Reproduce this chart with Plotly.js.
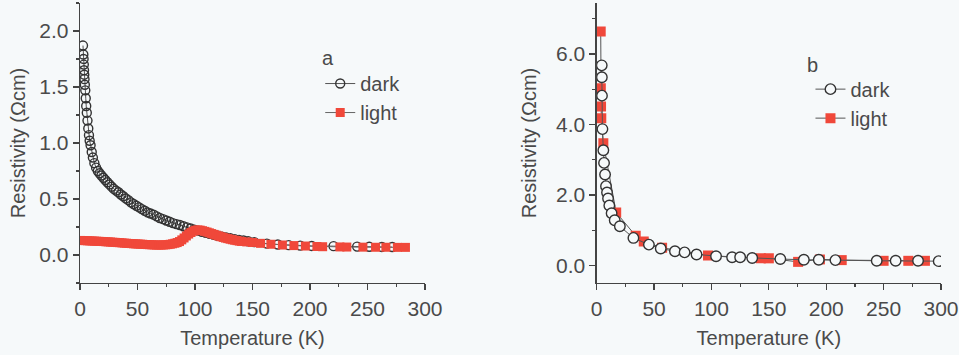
<!DOCTYPE html>
<html>
<head>
<meta charset="utf-8">
<script src="https://cdn.plot.ly/plotly-3.0.1.min.js"></script>
<style>
  html, body { margin: 0; padding: 0; background: #f6f9fa; }
  #chart { width: 959px; height: 355px; }
</style>
</head>
<body>
<div id="chart"></div>
<script>
// Panel a: resistivity vs temperature, dark and illuminated
var tempDarkA = [2.6, 2.9, 3.1, 3.3, 3.5, 3.7, 3.9, 4.2, 4.6, 5.0, 5.4, 5.9, 6.5, 7.2, 7.8, 8.4, 9.2, 10.2, 11.2, 12.5,
  14.0, 15.5, 17.0, 18.6, 20.3, 22.0, 23.8, 25.6, 27.5, 29.4, 31.4, 33.4, 35.5, 37.6, 39.8, 42.0, 44.3, 46.6, 49.0, 51.4,
  53.8, 56.3, 58.8, 61.4, 64.0, 66.7, 69.4, 72.2, 75.0, 77.9, 80.8, 83.8, 86.8, 89.9, 93.0, 96.2, 99.4, 102.7, 106.0, 109.4,
  112.8, 116.3, 119.8, 123.4, 127.0, 130.7, 134.5, 138.3, 142.2, 146.2, 151.5, 162.5, 172.0, 181.5, 191.5, 201.5, 220.5,
  241.0, 251.5, 262.5, 271.5];
var rhoDarkA = [1.87, 1.79, 1.75, 1.70, 1.65, 1.61, 1.57, 1.52, 1.47, 1.40, 1.33, 1.27, 1.20, 1.13, 1.07, 1.02, 0.98, 0.92, 0.87, 0.82,
  0.78, 0.75, 0.73, 0.71, 0.69, 0.67, 0.65, 0.63, 0.61, 0.59, 0.575, 0.56, 0.54, 0.525, 0.505, 0.49, 0.47, 0.455, 0.44, 0.425,
  0.41, 0.395, 0.38, 0.37, 0.36, 0.345, 0.33, 0.32, 0.308, 0.297, 0.285, 0.276, 0.268, 0.257, 0.247, 0.237, 0.227, 0.218, 0.208, 0.199,
  0.19, 0.181, 0.172, 0.164, 0.156, 0.149, 0.142, 0.135, 0.129, 0.123, 0.115, 0.102, 0.094, 0.088, 0.084, 0.081, 0.079,
  0.075, 0.073, 0.072, 0.071];

var tempLightA = [0.5, 2.5, 4.5, 6.5, 8.5, 10.5, 12.5, 14.5, 16.5, 18.5, 20.5, 22.5, 24.5, 26.5, 28.5, 30.5, 32.5, 34.5, 36.5, 38.5,
  40.5, 42.5, 44.5, 46.5, 48.5, 50.5, 52.5, 54.5, 56.5, 58.5, 60.5, 62.5, 64.5, 66.5, 68.5, 70.5, 72.5, 74.5, 76.5, 78.5,
  80.5, 82.5, 84.5, 86.5, 88.5, 90.5, 92.5, 94.5, 96.5, 98.5, 100.5, 102.5, 104.5, 106.5, 108.5, 110.5, 112.5, 114.5, 116.5, 118.5,
  120.5, 122.5, 124.5, 126.5, 128.5, 130.5, 132.5, 134.5, 136.5, 138.5, 140.5, 145, 150, 157, 166, 176, 186, 196, 206, 211,
  226, 232, 246, 257, 266, 276, 283];
var rhoLightA = [0.130, 0.129, 0.128, 0.127, 0.126, 0.125, 0.124, 0.123, 0.122, 0.121, 0.120, 0.118, 0.117, 0.116, 0.114, 0.113, 0.111, 0.110, 0.108, 0.106,
  0.105, 0.103, 0.102, 0.100, 0.099, 0.098, 0.097, 0.096, 0.094, 0.093, 0.092, 0.091, 0.090, 0.089, 0.089, 0.089, 0.090, 0.091, 0.093, 0.096,
  0.100, 0.105, 0.111, 0.120, 0.135, 0.152, 0.170, 0.187, 0.201, 0.213, 0.221, 0.224, 0.222, 0.217, 0.211, 0.205, 0.198, 0.191, 0.184, 0.177,
  0.170, 0.163, 0.157, 0.151, 0.146, 0.141, 0.136, 0.132, 0.128, 0.124, 0.121, 0.117, 0.112, 0.104, 0.096, 0.089, 0.084, 0.080, 0.076, 0.074,
  0.072, 0.071, 0.070, 0.069, 0.069, 0.068, 0.068];

// Panel b
var tempDarkB = [4.4, 4.5, 4.6, 5.0, 5.8, 6.4, 7.3, 8.1, 9.0, 9.9, 11.0, 13.0, 15.7, 20.2, 32.0, 45.5, 55.8, 68.2, 76.6, 87.0,
  104.0, 118.0, 125.0, 135.5, 160.0, 180.5, 193.5, 208.0, 244.0, 260.5, 280.0, 298.0];
var rhoDarkB = [5.68, 5.34, 4.82, 3.87, 3.27, 2.91, 2.58, 2.25, 2.07, 1.90, 1.70, 1.48, 1.28, 1.11, 0.78, 0.59, 0.48, 0.40, 0.37, 0.31,
  0.26, 0.23, 0.23, 0.21, 0.18, 0.16, 0.16, 0.15, 0.13, 0.13, 0.13, 0.12];

var tempLightB = [3.5, 3.6, 3.8, 4.0, 5.8, 17.0, 34.0, 41.0, 57.0, 97.0, 143.0, 150.0, 175.5, 194.5, 213.5, 250.0, 271.5, 286.0];
var rhoLightB = [6.64, 5.03, 4.51, 4.18, 3.47, 1.50, 0.84, 0.68, 0.50, 0.28, 0.20, 0.20, 0.10, 0.17, 0.15, 0.13, 0.13, 0.13];

var seriesNames = ['dark', 'light'];
var panelLabels = ['a', 'b'];
var tempTitle = 'Temperature (K)';
var rhoTitle = 'Resistivity (\u03A9cm)';

var BG = '#f6f9fa';
var INK = '#4a4a4a';
var AXIS = '#444444';
var RED = '#f0483a';
var FONT = 'Liberation Sans, Arial, Helvetica, sans-serif';

var traces = [
  { x: tempDarkA, y: rhoDarkA, name: seriesNames[0], xaxis: 'x', yaxis: 'y', legend: 'legend',
    mode: 'lines+markers', line: { color: '#555', width: 1 },
    marker: { symbol: 'circle-open', size: 9, color: '#333', line: { width: 1.4 } }, legendrank: 1 },
  { x: tempLightA, y: rhoLightA, name: seriesNames[1], xaxis: 'x', yaxis: 'y', legend: 'legend',
    mode: 'lines+markers', line: { color: '#666', width: 1 },
    marker: { symbol: 'square', size: 9, color: RED, line: { width: 0 } }, legendrank: 2 },
  { x: tempLightB, y: rhoLightB, name: seriesNames[1], xaxis: 'x2', yaxis: 'y2', legend: 'legend2',
    mode: 'lines+markers', line: { color: '#555', width: 1 },
    marker: { symbol: 'square', size: 10, color: RED, line: { width: 0 } }, legendrank: 2 },
  { x: tempDarkB, y: rhoDarkB, name: seriesNames[0], xaxis: 'x2', yaxis: 'y2', legend: 'legend2',
    mode: 'lines+markers', line: { color: '#555', width: 1 },
    marker: { symbol: 'circle', size: 10.5, color: BG, line: { color: '#333', width: 1.4 } }, legendrank: 1 }
];

function xAxis(domain, anchor) {
  return {
    domain: domain, anchor: anchor, range: [0, 300], tick0: 0, dtick: 50,
    ticks: 'outside', ticklen: 6, tickwidth: 1.2, tickcolor: AXIS,
    minor: { dtick: 25, ticks: 'outside', ticklen: 3, tickcolor: AXIS, tickwidth: 1.2, showgrid: false },
    showline: true, linecolor: AXIS, linewidth: 1.3, showgrid: false, zeroline: false,
    tickfont: { family: FONT, size: 21, color: INK },
    title: { text: tempTitle, font: { family: FONT, size: 20, color: INK }, standoff: 12 }
  };
}
function yAxis(range, dtick, minorDtick, anchor, standoff) {
  return {
    domain: [0, 1], anchor: anchor, range: range, tick0: 0, dtick: dtick, tickformat: '.1f',
    ticks: 'outside', ticklen: 6, tickwidth: 1.2, tickcolor: AXIS,
    minor: { dtick: minorDtick, ticks: 'outside', ticklen: 3, tickcolor: AXIS, tickwidth: 1.2, showgrid: false },
    showline: true, linecolor: AXIS, linewidth: 1.3, showgrid: false, zeroline: false,
    tickfont: { family: FONT, size: 21, color: INK },
    title: { text: rhoTitle, font: { family: FONT, size: 20, color: INK }, standoff: standoff }
  };
}

var legendBase = {
  bgcolor: 'rgba(0,0,0,0)', borderwidth: 0, xanchor: 'left', yanchor: 'top',
  font: { family: FONT, size: 20, color: INK }, tracegroupgap: 0, itemclick: false
};

var layout = {
  width: 959, height: 355,
  margin: { l: 80, r: 18, t: 3, b: 72 },
  paper_bgcolor: BG, plot_bgcolor: BG,
  font: { family: FONT, color: INK },
  xaxis: xAxis([0, 0.4007], 'y'),
  yaxis: yAxis([-0.25, 2.25], 0.5, 0.25, 'x', 8),
  xaxis2: xAxis([0.6001, 1], 'y2'),
  yaxis2: yAxis([-0.5, 7.45], 2, 1, 'x2', 14),
  legend: Object.assign({}, legendBase, { x: 0.279, y: 0.782 }),
  legend2: Object.assign({}, legendBase, { x: 0.8484, y: 0.762 }),
  annotations: [
    { text: panelLabels[0], xref: 'paper', yref: 'paper', x: 0.288, y: 0.8036, showarrow: false,
      xanchor: 'center', yanchor: 'middle', font: { family: FONT, size: 20, color: INK } },
    { text: panelLabels[1], xref: 'paper', yref: 'paper', x: 0.8513, y: 0.7786, showarrow: false,
      xanchor: 'center', yanchor: 'middle', font: { family: FONT, size: 20, color: INK } }
  ],
  showlegend: true
};

Plotly.newPlot('chart', traces, layout, { staticPlot: true, displayModeBar: false });
</script>
</body>
</html>
